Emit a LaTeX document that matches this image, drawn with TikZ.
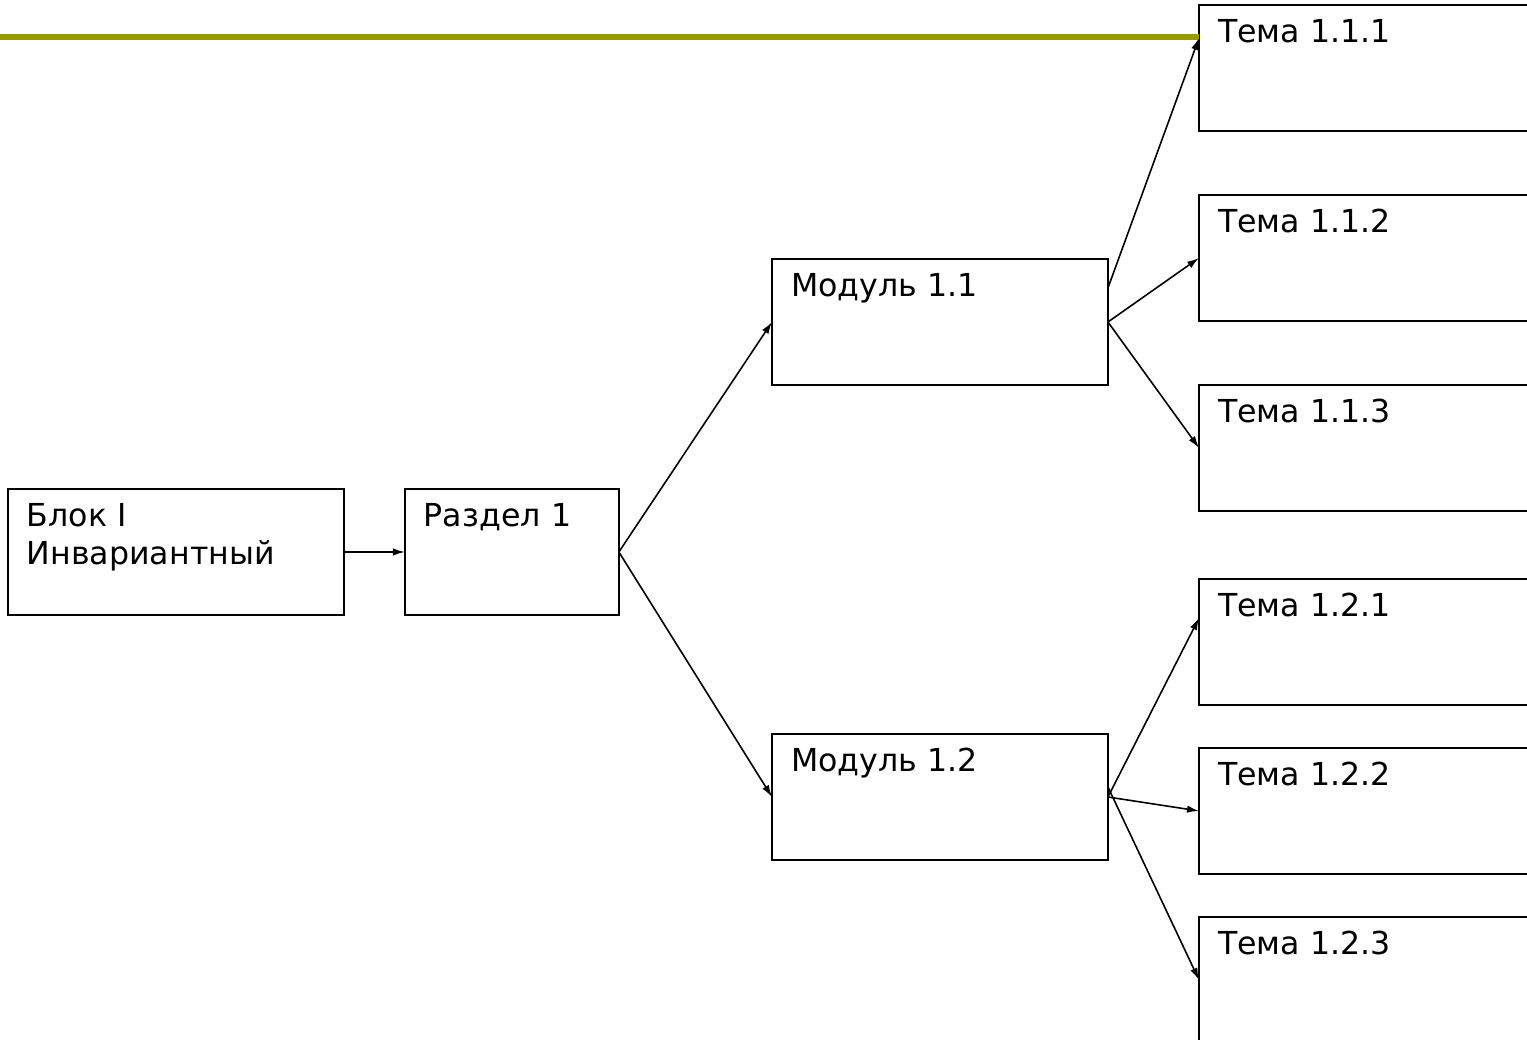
\documentclass[tikz,border=0pt]{standalone}
\usepackage{fontspec}
\setmainfont{DejaVu Sans}
\usetikzlibrary{arrows.meta, positioning}
\usepackage{xcolor}
\definecolor{titleolive}{RGB}{153,153,0}

\begin{document}
\begin{tikzpicture}[x=0.02cm, y=-0.02cm,
    box/.style={draw, line width=0.9pt, anchor=north west, align=left, outer sep=0pt,
      inner xsep=0.38cm, inner ysep=0pt, text height=0.76cm, text depth=1.76cm,
      text width=#1, font=\fontsize{18}{21.6}\selectfont},
    box/.default=5.96cm,
    link/.style={-{Latex[length=0.24cm, width=0.15cm]}, line width=0.9pt}]
    \useasboundingbox (0,0) rectangle (1527,1040);

    % title rule
    \coordinate (barstart) at (0,37);

    \node[box] (blok) at (8,489) {Блок I\\Инвариантный};
    \node[box=3.52cm, right=1.22cm of blok] (razdel) {Раздел 1};
    \node[box] (mod11) at (772,259) {Модуль 1.1};
    \node[box] (mod12) at (772,734) {Модуль 1.2};

    \node[box] (t111) at (1199,5) {Тема 1.1.1};
    \node[box, below=1.28cm of t111] (t112) {Тема 1.1.2};
    \node[box, below=1.28cm of t112] (t113) {Тема 1.1.3};
    \node[box] (t121) at (1199,579) {Тема 1.2.1};
    \node[box, below=0.86cm of t121] (t122) {Тема 1.2.2};
    \node[box, below=0.86cm of t122] (t123) {Тема 1.2.3};

    \draw[titleolive, line width=3pt] (barstart) -- (barstart -| t111.west);

    \draw[link] (blok) -- (razdel);
    \draw[link] (razdel.east) -- (mod11.west);
    \draw[link] (razdel.east) -- (mod12.west);

    \draw[link] ([yshift=0.68cm]mod11.east) -- ([yshift=0.6cm]t111.west);
    \draw[link] (mod11.east) -- (t112.west);
    \draw[link] (mod11.east) -- (t113.west);

    \draw[link] (mod12.east) -- ([yshift=0.48cm]t121.west);
    \draw[link] (mod12.east) -- (t122.west);
    \draw[link] ([yshift=0.2cm]mod12.east) -- (t123.west);
\end{tikzpicture}
\end{document}
